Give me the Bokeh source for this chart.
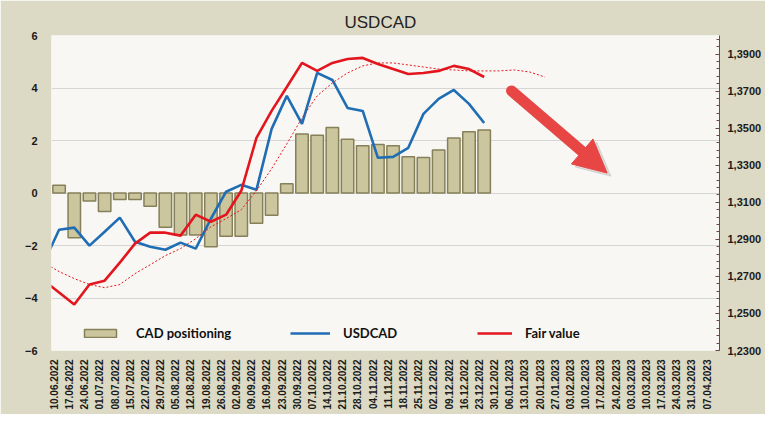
import numpy as np
from bokeh.plotting import figure
from bokeh.models import (Range1d, LinearAxis, FixedTicker, CustomJSTickFormatter,
                          Legend, LegendItem, Arrow, NormalHead)
from bokeh.embed import file_html
from bokeh.resources import INLINE

# ---------------- data ----------------
dates = ["10.06.2022", "17.06.2022", "24.06.2022", "01.07.2022", "08.07.2022", "15.07.2022",
         "22.07.2022", "29.07.2022", "05.08.2022", "12.08.2022", "19.08.2022", "26.08.2022",
         "02.09.2022", "09.09.2022", "16.09.2022", "23.09.2022", "30.09.2022", "07.10.2022",
         "14.10.2022", "21.10.2022", "28.10.2022", "04.11.2022", "11.11.2022", "18.11.2022",
         "25.11.2022", "02.12.2022", "09.12.2022", "16.12.2022", "23.12.2022", "30.12.2022",
         "06.01.2023", "13.01.2023", "20.01.2023", "27.01.2023", "03.02.2023", "10.02.2023",
         "17.02.2023", "24.02.2023", "03.03.2023", "10.03.2023", "17.03.2023", "24.03.2023",
         "31.03.2023", "07.04.2023"]

# CAD net positioning (left axis), one per week starting 10.06.2022
cad_positioning = [0.3, -1.7, -0.3, -0.7, -0.25, -0.25, -0.5, -1.3, -1.6, -1.6, -2.05, -1.65,
                   -1.65, -1.15, -0.85, 0.35, 2.25, 2.2, 2.5, 2.05, 1.8, 1.85, 1.8, 1.38,
                   1.35, 1.64, 2.1, 2.33, 2.4]

# Lines (right axis); first value is the week before 10.06.2022 (clipped at the left edge)
usdcad = [1.2774, 1.2952, 1.2963, 1.2866, 1.2941, 1.3017, 1.2887, 1.2860, 1.2844, 1.2882,
          1.2850, 1.3011, 1.3157, 1.3194, 1.3167, 1.3496, 1.3674, 1.3523, 1.3798, 1.3760,
          1.3609, 1.3593, 1.3340, 1.3345, 1.3394, 1.3577, 1.3658, 1.3706, 1.3631, 1.3528]

fair_value = [1.2677, 1.2613, 1.2548, 1.2656, 1.2677, 1.2774, 1.2877, 1.2936, 1.2936, 1.2920,
              1.3033, 1.2995, 1.3033, 1.3162, 1.3448, 1.3593, 1.3722, 1.3852, 1.3809, 1.3852,
              1.3873, 1.3879, 1.3846, 1.3819, 1.3792, 1.3798, 1.3809, 1.3836, 1.3819, 1.3776]

fair_value_avg = [1.2774, 1.2726, 1.2688, 1.2656, 1.2639, 1.2656, 1.2715, 1.2763, 1.2812,
                  1.2850, 1.2903, 1.2968, 1.3011, 1.3060, 1.3162, 1.3281, 1.3415, 1.3555,
                  1.3674, 1.3744, 1.3798, 1.3836, 1.3852, 1.3852, 1.3841, 1.3830, 1.3819,
                  1.3814, 1.3809, 1.3809, 1.3809, 1.3814, 1.3803, 1.3776]

left_ticks = [-6, -4, -2, 0, 2, 4, 6]
right_ticks = [1.23, 1.25, 1.27, 1.29, 1.31, 1.33, 1.35, 1.37, 1.39]
right_minor = [round(1.23 + 0.004 * k, 4) for k in range(43)]

# ---------------- styling ----------------
BG = "#DCD9C4"
PLOT_BG = "#F8F7F3"
BAR_FILL = "#CCC69E"
BAR_LINE = "#858059"
BLUE = "#1F6DB3"
RED = "#E3161E"
ARROW_RED = "#E84545"

p = figure(width=765, height=414, output_backend="svg", toolbar_location=None,
           x_range=Range1d(0, 44), y_range=Range1d(-6, 6),
           min_border_left=51, min_border_right=46, min_border_top=35, min_border_bottom=64)
p.extra_y_ranges = {"r": Range1d(1.23, 1.40)}
p.background_fill_color = PLOT_BG
p.border_fill_color = BG
p.outline_line_color = None

p.title.text = "USDCAD"
p.title.align = "left"
p.title.offset = 293
p.title.text_font = "Liberation Sans"
p.title.text_font_style = "normal"
p.title.text_font_size = "17px"
p.title.text_color = "#222222"
p.title.standoff = 8

# bars
n = len(cad_positioning)
bar_x = np.arange(n) + 0.5
bars = p.vbar(x=bar_x, top=cad_positioning, bottom=0, width=0.82,
              fill_color=BAR_FILL, line_color=BAR_LINE, line_width=1.5)

# lines
lx = np.arange(len(usdcad)) - 0.5
blue = p.line(lx, usdcad, y_range_name="r", line_color=BLUE, line_width=2.6)
red = p.line(lx, fair_value, y_range_name="r", line_color=RED, line_width=2.6)
dx = np.arange(len(fair_value_avg)) - 0.5
p.line(dx, fair_value_avg, y_range_name="r", line_color=RED, line_width=1, line_dash="2 2")

# axes
p.yaxis.ticker = FixedTicker(ticks=left_ticks)
p.yaxis.axis_line_color = None
p.yaxis.major_tick_line_color = None
p.yaxis.minor_tick_line_color = None
p.yaxis.major_label_standoff = 8
p.yaxis.major_label_text_font = "Liberation Sans"
p.yaxis.major_label_text_font_style = "bold"
p.yaxis.major_label_text_font_size = "11px"
p.yaxis.major_label_text_color = "#1a1a1a"

p.ygrid.ticker = FixedTicker(ticks=left_ticks)
p.ygrid.grid_line_color = "#D6D6D6"
p.xgrid.grid_line_color = None

tick_pos = [i + 0.15 for i in range(len(dates))]
p.xaxis.ticker = FixedTicker(ticks=tick_pos)
p.xaxis.major_label_overrides = {t: d for t, d in zip(tick_pos, dates)}
p.xaxis.major_label_orientation = np.pi / 2
p.xaxis.axis_line_color = None
p.xaxis.major_tick_line_color = None
p.xaxis.minor_tick_line_color = None
p.xaxis.major_label_standoff = 3
p.xaxis.major_label_text_font = "Liberation Sans"
p.xaxis.major_label_text_font_style = "bold"
p.xaxis.major_label_text_font_size = "10px"
p.xaxis.major_label_text_color = "#1a1a1a"

ra = LinearAxis(y_range_name="r",
                ticker=FixedTicker(ticks=right_ticks, minor_ticks=right_minor),
                formatter=CustomJSTickFormatter(code="return tick.toFixed(4).replace('.', ',');"))
ra.axis_line_color = "#6A4A45"
ra.axis_line_width = 1
ra.major_tick_in = 4
ra.major_tick_out = 0
ra.minor_tick_in = 3
ra.minor_tick_out = 0
ra.major_tick_line_color = "#6A4A45"
ra.minor_tick_line_color = "#6A4A45"
ra.major_label_standoff = 8
ra.major_label_text_font = "Liberation Sans"
ra.major_label_text_font_style = "bold"
ra.major_label_text_font_size = "11px"
ra.major_label_text_color = "#1a1a1a"
p.add_layout(ra, "right")

# arrow annotation: shaft (round start cap) + separate head, with soft shadow
arrow_start = (30.3, 3.89)
head_base = (35.1, 1.51)
arrow_end = (36.6, 0.76)
shadow_off = (0.25, -0.12)

def add_arrow(off, color, alpha):
    p.add_layout(Arrow(x_start=arrow_start[0] + off[0], y_start=arrow_start[1] + off[1],
                       x_end=head_base[0] + off[0], y_end=head_base[1] + off[1],
                       end=None, line_width=11, line_color=color, line_alpha=alpha,
                       line_cap="round"))
    p.add_layout(Arrow(x_start=head_base[0] + off[0], y_start=head_base[1] + off[1],
                       x_end=arrow_end[0] + off[0], y_end=arrow_end[1] + off[1],
                       line_alpha=0,
                       end=NormalHead(size=33, fill_color=color, fill_alpha=alpha,
                                      line_color=color, line_alpha=alpha, line_width=1)))

add_arrow(shadow_off, "#808080", 0.22)
add_arrow((0, 0), ARROW_RED, 1.0)

# legends
def make_legend(label, rend, x, gw, standoff):
    lg = Legend(items=[LegendItem(label=label, renderers=[rend])], location=(x, 9),
                padding=0, margin=0, glyph_width=gw, glyph_height=10, label_height=16,
                label_standoff=standoff, label_text_font="Lato", label_text_font_style="bold",
                label_text_font_size="13px", label_text_color="#111111",
                background_fill_alpha=0, border_line_alpha=0)
    p.add_layout(lg)

make_legend("CAD positioning", bars, 29, 40, 16)
make_legend("USDCAD", blue, 239, 40, 13)
make_legend("Fair value", red, 426, 35, 13)

open("out.html", "w").write(file_html(p, INLINE))
